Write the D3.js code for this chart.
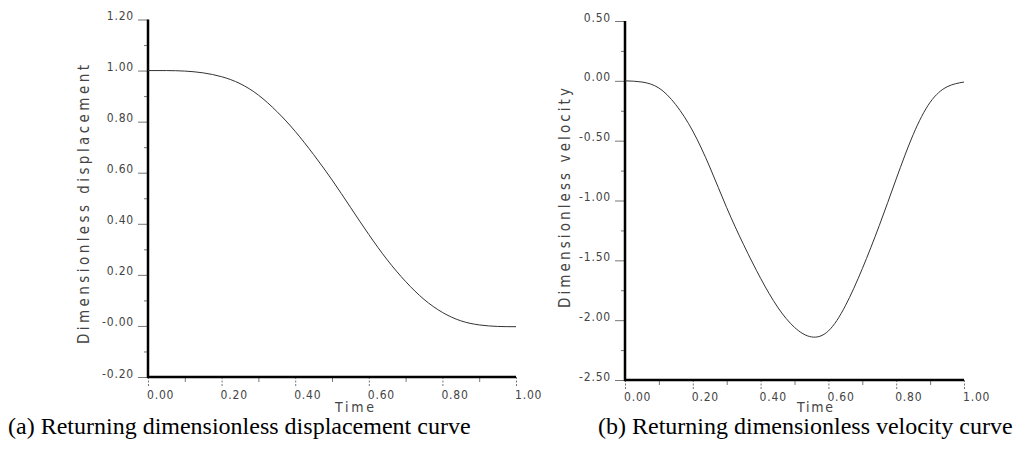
<!DOCTYPE html>
<html>
<head>
<meta charset="utf-8">
<script src="https://cdn.jsdelivr.net/npm/d3@7"></script>
<style>
  body { margin: 0; background: #fff; }
  svg { display: block; }
  .tick text, .ax-label { font-family: "DejaVu Sans Condensed", "DejaVu Sans", sans-serif; fill: #444; }
  .caption { font-family: "Liberation Serif", "Times New Roman", serif; fill: #000; }
</style>
</head>
<body>
<div id="chart"></div>
<script>
// time samples shared by both curves
const timeValues = [0, 0.05, 0.1, 0.15, 0.2, 0.25, 0.3, 0.35, 0.4, 0.45, 0.5,
                    0.55, 0.6, 0.65, 0.7, 0.75, 0.8, 0.85, 0.9, 0.95, 1.0]

// (a) dimensionless displacement
const displacement = [1.0, 1.0, 0.998, 0.991, 0.976, 0.949, 0.904, 0.840, 0.762, 0.671, 0.572,
                      0.465, 0.358, 0.259, 0.174, 0.104, 0.053, 0.020, 0.004, -0.002, -0.003]

// (b) dimensionless velocity
const velocity = [0, -0.01, -0.06, -0.2, -0.42, -0.72, -1.06, -1.37, -1.65, -1.89, -2.06,
                  -2.14, -2.09, -1.88, -1.57, -1.21, -0.82, -0.45, -0.18, -0.05, -0.01]

const xTicks = [0, 0.2, 0.4, 0.6, 0.8, 1.0]
const xTickLabels = ["0.00", "0.20", "0.40", "0.60", "0.80", "1.00"]
const xMinor = [0.1, 0.3, 0.5, 0.7, 0.9]

const dispTicks = [-0.2, 0, 0.2, 0.4, 0.6, 0.8, 1.0, 1.2]
const dispTickLabels = ["-0.20", "-0.00", "0.20", "0.40", "0.60", "0.80", "1.00", "1.20"]
const dispMinor = [-0.1, 0.1, 0.3, 0.5, 0.7, 0.9, 1.1]

const velTicks = [-2.5, -2.0, -1.5, -1.0, -0.5, 0, 0.5]
const velTickLabels = ["-2.50", "-2.00", "-1.50", "-1.00", "-0.50", "0.00", "0.50"]
const velMinor = [-2.25, -1.75, -1.25, -0.75, -0.25, 0.25]

const panels = [
  {
    values: displacement, yDomain: [-0.2, 1.2],
    yTicks: dispTicks, yLabels: dispTickLabels, yMinor: dispMinor,
    left: 148, right: 516, top: 19.5, bottom: 377,
    yTitle: "Dimensionless displacement", yTitleX: 89, yTitleY: 204.5, yTitleLen: 279,
    xTitleX: 354.5, xTitleY: 412, xTitleLen: 39,
    caption: "(a) Returning dimensionless displacement curve", capX: 8
  },
  {
    values: velocity, yDomain: [-2.5, 0.5],
    yTicks: velTicks, yLabels: velTickLabels, yMinor: velMinor,
    left: 625, right: 964, top: 21, bottom: 380,
    yTitle: "Dimensionless velocity", yTitleX: 570, yTitleY: 198, yTitleLen: 220,
    xTitleX: 815, xTitleY: 412, xTitleLen: 36,
    caption: "(b) Returning dimensionless velocity curve", capX: 598
  }
]

const svg = d3.select("#chart").append("svg")
    .attr("width", 1016)
    .attr("height", 450)

function drawPanel (p) {
  const x = d3.scaleLinear().domain([0, 1]).range([p.left, p.right])
  const y = d3.scaleLinear().domain(p.yDomain).range([p.bottom, p.top])
  const g = svg.append("g")

  // minor ticks first, so the thick axis line sits over them
  g.append("g")
      .attr("transform", "translate(" + p.left + ",0)")
      .call(d3.axisLeft(y).tickValues(p.yMinor).tickSize(4).tickFormat(() => ""))
      .call(a => a.select(".domain").remove())
  g.append("g")
      .attr("transform", "translate(0," + p.bottom + ")")
      .call(d3.axisBottom(x).tickValues(xMinor).tickSize(5).tickFormat(() => ""))
      .call(a => a.select(".domain").remove())

  const yAxis = g.append("g")
      .attr("transform", "translate(" + p.left + ",0)")
      .call(d3.axisLeft(y).tickValues(p.yTicks).tickSize(10).tickSizeOuter(0).tickPadding(4)
        .tickFormat((d, i) => p.yLabels[i]))
  yAxis.selectAll(".tick text")
      .attr("dy", 0)
      .attr("font-size", 12)
      .attr("letter-spacing", 0.8)
  yAxis.select(".domain").remove()

  const xAxis = g.append("g")
      .attr("transform", "translate(0," + p.bottom + ")")
      .call(d3.axisBottom(x).tickValues(xTicks).tickSize(10).tickSizeOuter(0).tickPadding(0)
        .tickFormat((d, i) => xTickLabels[i]))
  xAxis.selectAll(".tick text")
      .attr("text-anchor", "start")
      .attr("x", -1.5)
      .attr("y", 0)
      .attr("dy", p.bottom > 378 ? 21 : 22)
      .attr("font-size", 12)
      .attr("letter-spacing", 0.8)
  xAxis.selectAll(".tick line").attr("stroke-dasharray", "2,1.5")
  xAxis.select(".domain").remove()

  g.selectAll(".tick line").attr("stroke", "#777").attr("stroke-width", 1)

  // thick axis lines drawn over the ticks
  g.append("line")
      .attr("x1", p.left).attr("x2", p.left)
      .attr("y1", p.top).attr("y2", p.bottom + 1)
      .attr("stroke", "#000").attr("stroke-width", 2.5)
  g.append("line")
      .attr("x1", p.left - 1).attr("x2", p.right)
      .attr("y1", p.bottom).attr("y2", p.bottom)
      .attr("stroke", "#000").attr("stroke-width", 2.5)

  const line = d3.line()
      .x((d, i) => x(timeValues[i]))
      .y(d => y(d))
      .curve(d3.curveNatural)

  g.append("path")
      .datum(p.values)
      .attr("fill", "none")
      .attr("stroke", "#333")
      .attr("stroke-width", 1)
      .attr("d", line)

  g.append("text")
      .attr("class", "ax-label")
      .attr("transform", "translate(" + p.yTitleX + "," + p.yTitleY + ") rotate(-90)")
      .attr("text-anchor", "middle")
      .attr("font-size", 15)
      .attr("textLength", p.yTitleLen)
      .attr("lengthAdjust", "spacing")
      .text(p.yTitle)

  g.append("text")
      .attr("class", "ax-label")
      .attr("x", p.xTitleX)
      .attr("y", p.xTitleY)
      .attr("text-anchor", "middle")
      .attr("font-size", 14)
      .attr("textLength", p.xTitleLen)
      .attr("lengthAdjust", "spacing")
      .text("Time")

  svg.append("text")
      .attr("class", "caption")
      .attr("x", p.capX)
      .attr("y", 434)
      .attr("font-size", 24)
      .text(p.caption)
}

panels.forEach(drawPanel)
</script>
</body>
</html>
